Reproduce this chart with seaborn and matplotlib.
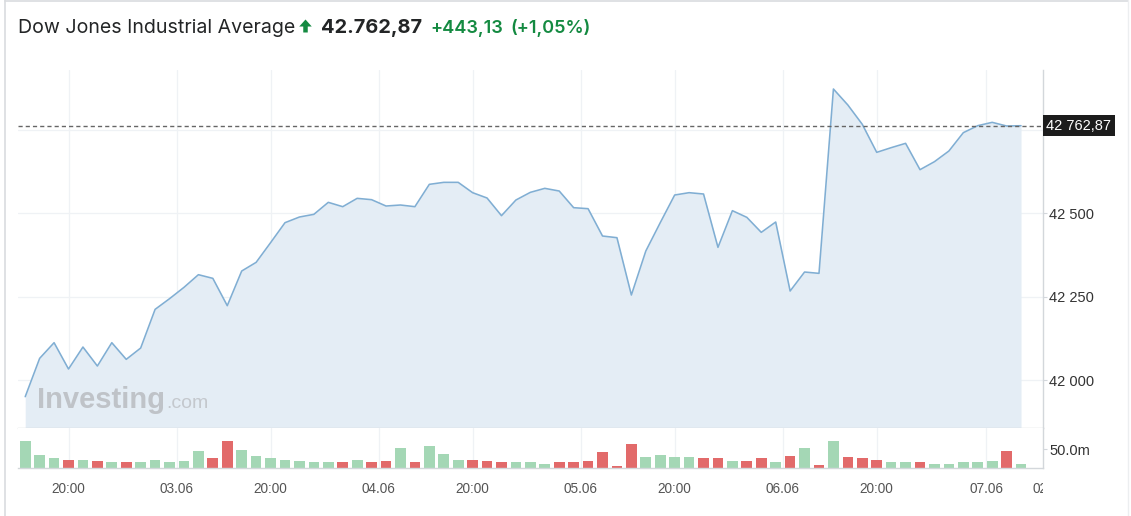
import matplotlib
matplotlib.use("Agg")
import matplotlib.pyplot as plt
import seaborn as sns
import numpy as np
from matplotlib.transforms import Bbox, TransformedBbox
from matplotlib.patches import Polygon
from matplotlib.lines import Line2D

# ---------------- data ----------------
price = [41950, 42065, 42112, 42033, 42099, 42042, 42112, 42062, 42096, 42212,
         42244, 42278, 42316, 42305, 42223, 42327, 42353, 42412, 42472, 42489,
         42497, 42533, 42520, 42545, 42541, 42522, 42525, 42520, 42587, 42593,
         42593, 42562, 42546, 42493, 42540, 42563, 42575, 42567, 42517, 42514,
         42432, 42427, 42255, 42387, 42472, 42555, 42562, 42558, 42398, 42508,
         42488, 42443, 42474, 42267, 42324, 42320, 42873, 42825, 42767, 42683,
         42697, 42710, 42631, 42655, 42687, 42742, 42763, 42773, 42762, 42762.87]

volume_m = [72, 35, 25, 21, 21, 18, 15, 15, 15, 21,
            15, 18, 45, 25, 72, 48, 32, 25, 21, 18,
            15, 15, 15, 21, 15, 18, 52, 15, 59, 38,
            21, 21, 18, 15, 15, 15, 11, 15, 15, 18,
            42, 5, 63, 28, 35, 28, 28, 25, 25, 18,
            18, 25, 15, 32, 52, 7, 73, 28, 25, 21,
            15, 15, 15, 11, 11, 15, 15, 18, 45, 11]

direction = ["up", "up", "up", "down", "up", "down", "up", "down", "up", "up",
             "up", "up", "up", "down", "down", "up", "up", "up", "up", "up",
             "up", "up", "down", "up", "down", "down", "up", "down", "up", "up",
             "up", "down", "down", "down", "up", "up", "up", "down", "down", "down",
             "down", "down", "down", "up", "up", "up", "up", "down", "down", "up",
             "down", "down", "up", "down", "up", "down", "up", "down", "down", "down",
             "up", "up", "down", "up", "up", "up", "up", "up", "down", "up"]

x_tick_pos = [3, 10.5, 17, 24.5, 31, 38.5, 45, 52.5, 59, 66.6]
x_tick_labels = ["20:00", "03.06", "20:00", "04.06", "20:00", "05.06",
                 "20:00", "06.06", "20:00", "07.06"]
cut_label_pos = 70.95
cut_label = "02:00"

price_ticks = [42000, 42250, 42500, 42750]
price_tick_labels = ["42 000", "42 250", "42 500", ""]
vol_ticks = [50]
vol_tick_labels = ["50.0m"]

title = "Dow Jones Industrial Average"
last_text = "42.762,87"
change_text = "+443,13"
pct_text = "(+1,05%)"
last_label = "42 762,87"
last_value = price[-1]

idx = list(range(len(price)))

# ---------------- style ----------------
sns.set_style("white")
plt.rcParams['font.family'] = ['Liberation Sans', 'DejaVu Sans']

LINE_C = "#80aed3"
FILL_C = "#e4edf5"
GREEN_BAR = "#a4d7b5"
RED_BAR = "#e26a6a"
GRID_C = "#eff2f5"
SPINE_C = "#d3d7db"
GREEN_TXT = "#148a41"
DARK = "#232526"

W, H = 1131, 516
fig = plt.figure(figsize=(W / 100, H / 100), dpi=100)
fig.patch.set_facecolor("white")

def fx(px):
    return px / W

def fy(py):
    return 1 - py / H

L, R = 18, 1042.7
axp = fig.add_axes([fx(L), fy(427.7), fx(R) - fx(L), fy(70) - fy(427.7)])
axv = fig.add_axes([fx(L), fy(467.7), fx(R) - fx(L), fy(427.7) - fy(467.7)])

YLO, YHI = 41857, 42930

# ---------------- price panel ----------------
axp.fill_between(idx, price, YLO, color=FILL_C, linewidth=0, zorder=1)
sns.lineplot(x=idx, y=price, ax=axp, color=LINE_C, linewidth=1.15, zorder=3)
axp.axhline(last_value, color="#666666", linewidth=1.0, linestyle=(0, (3, 2.2)), zorder=4)
axp.set_xlim(-0.5, 70.5)
axp.set_ylim(YLO, YHI)
axp.set_xticks(x_tick_pos)
axp.tick_params(axis="x", length=0, labelbottom=False)
axp.yaxis.tick_right()
axp.set_yticks(price_ticks, price_tick_labels)
axp.tick_params(axis="y", length=3, width=0.8, color=SPINE_C, pad=1.8,
                labelsize=10.5, labelcolor="#333333")
axp.grid(axis="both", color=GRID_C, linewidth=0.9)
axp.set_axisbelow(True)
for s in ["top", "left"]:
    axp.spines[s].set_visible(False)
for s in ["right", "bottom"]:
    axp.spines[s].set_color(SPINE_C)
    axp.spines[s].set_linewidth(1.0)
axp.set_xlabel("")
axp.set_ylabel("")

axp.annotate(last_label, xy=(1, last_value), xycoords=("axes fraction", "data"),
             xytext=(2.6, 0), textcoords="offset points", ha="left", va="center",
             fontsize=10.5, color="white", annotation_clip=False, zorder=10,
             bbox=dict(boxstyle="square,pad=0.24", fc="#1c1c1c", ec="none"))

# watermark
fig.text(fx(37), fy(408.3), "Investing", fontsize=21, fontweight="bold",
         color="#bfc3c8", va="baseline", ha="left", zorder=5)
fig.text(fx(166), fy(408.3), ".com", fontsize=14, color="#c4c8cd",
         va="baseline", ha="left", zorder=5)

# ---------------- volume panel ----------------
sns.barplot(x=idx, y=volume_m, hue=direction, palette={"up": GREEN_BAR, "down": RED_BAR},
            ax=axv, width=0.74, saturation=1, legend=False, errorbar=None, linewidth=0,
            zorder=2)
axv.set_xlim(-0.5, 70.5)
axv.set_ylim(0, 108)
axv.set_xticks(x_tick_pos, x_tick_labels)
axv.tick_params(axis="x", length=5, width=0.8, color=SPINE_C, pad=5.5,
                labelsize=9.8, labelcolor="#555555")
axv.yaxis.tick_right()
axv.set_yticks(vol_ticks, vol_tick_labels)
axv.tick_params(axis="y", length=3, width=0.8, color=SPINE_C, pad=1.8,
                labelsize=10.5, labelcolor="#333333")
axv.grid(axis="x", color=GRID_C, linewidth=0.9)
axv.grid(axis="y", visible=False)
axv.set_axisbelow(True)
for s in ["top", "left"]:
    axv.spines[s].set_visible(False)
for s in ["right", "bottom"]:
    axv.spines[s].set_color(SPINE_C)
    axv.spines[s].set_linewidth(1.0)
axv.set_xlabel("")
axv.set_ylabel("")

cut = axv.annotate(cut_label, xy=(cut_label_pos, 0), xycoords=("data", "axes fraction"),
                   xytext=(0, -(5 + 5.5)), textcoords="offset points", ha="center",
                   va="top", fontsize=9.8, color="#555555", annotation_clip=False)
cut.set_clip_on(True)
cut.set_clip_box(TransformedBbox(Bbox.from_extents(0, 0, fx(R), 1), fig.transFigure))

# ---------------- header ----------------
renderer = fig.canvas.get_renderer()
base_y = fy(33)
t1 = fig.text(fx(18), base_y, title, fontsize=14.1, family=["Inter", "DejaVu Sans"],
              color=DARK, va="baseline", ha="left")
bb = t1.get_window_extent(renderer)
ax0 = bb.x1 + 4
aw, ah = 12.5, 13.5
by = H - 33
arrow = Polygon([[ax0 + aw / 2, by + ah], [ax0 + aw, by + ah * 0.48],
                 [ax0 + aw * 0.68, by + ah * 0.48], [ax0 + aw * 0.68, by + 0.5],
                 [ax0 + aw * 0.32, by + 0.5], [ax0 + aw * 0.32, by + ah * 0.48],
                 [ax0, by + ah * 0.48]],
                closed=True, transform=None, fc=GREEN_TXT, ec="none")
fig.patches.append(arrow)
x2 = ax0 + aw + 9
t2 = fig.text(x2 / W, base_y, last_text, fontsize=14.4, fontweight="bold",
              family=["Inter", "DejaVu Sans"], color=DARK, va="baseline", ha="left")
bb2 = t2.get_window_extent(renderer)
t3 = fig.text((bb2.x1 + 8) / W, base_y, change_text, fontsize=13, fontweight="semibold",
              family=["Inter", "DejaVu Sans"], color=GREEN_TXT, va="baseline", ha="left")
bb3 = t3.get_window_extent(renderer)
fig.text((bb3.x1 + 8) / W, base_y, pct_text, fontsize=13, fontweight="semibold",
         family=["Inter", "DejaVu Sans"], color=GREEN_TXT, va="baseline", ha="left")

# card border
fig.add_artist(Line2D([fx(5), fx(5)], [0, 1], color="#d9dcdf", linewidth=1.2))
fig.add_artist(Line2D([fx(5), fx(1128)], [fy(1), fy(1)], color="#d9dcdf", linewidth=1.2))
fig.add_artist(Line2D([fx(1128), fx(1128)], [0, 1], color="#eceef0", linewidth=1.0))

fig.savefig("out.png", dpi=100, facecolor="white")
